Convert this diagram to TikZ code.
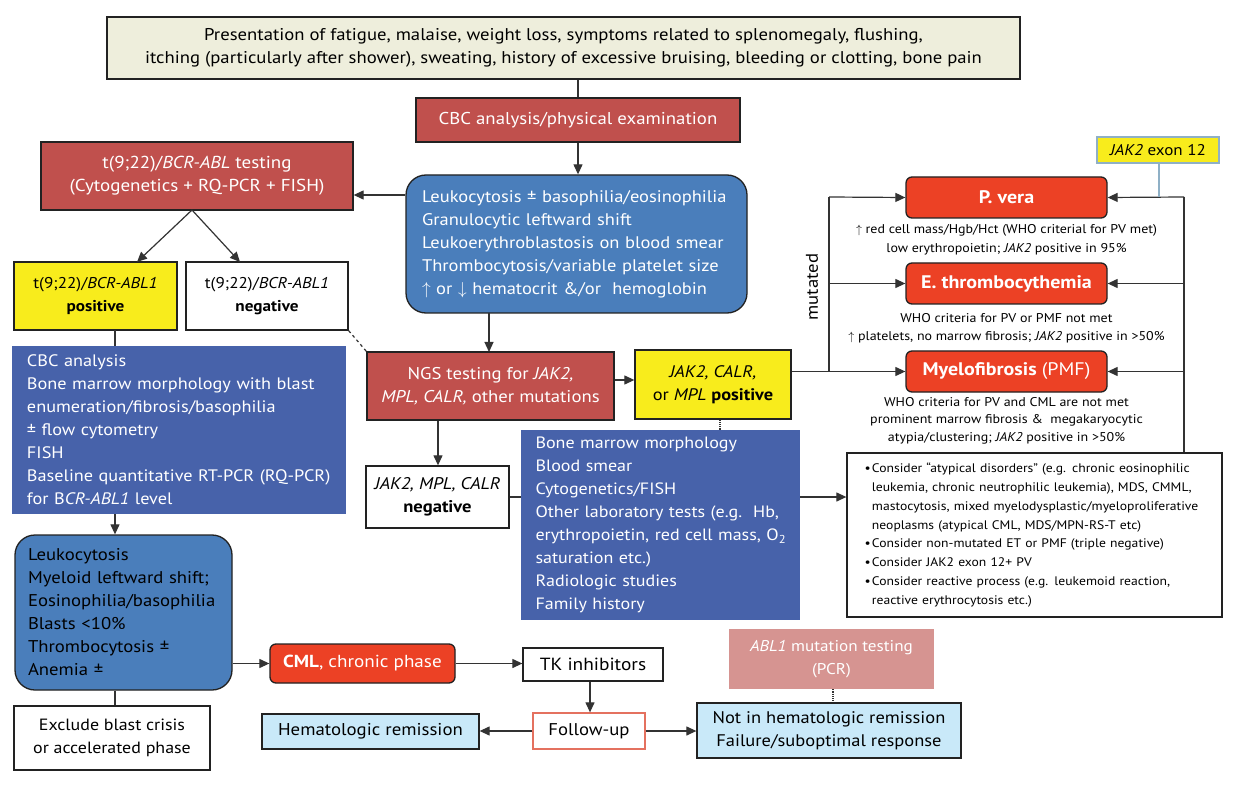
\documentclass[tikz,border=0pt]{standalone}
\usepackage{fontspec}
\setmainfont{PT Sans}[FakeStretch=1.1]
\usetikzlibrary{arrows.meta}
\definecolor{brick}{HTML}{C0504D}
\definecolor{vred}{HTML}{EC4125}
\definecolor{blueA}{HTML}{4A7EBB}
\definecolor{blueB}{HTML}{4762AA}
\definecolor{yel}{HTML}{F8EC1C}
\definecolor{lblu}{HTML}{C9E9F9}
\definecolor{beige}{HTML}{EEEEDC}
\definecolor{pink}{HTML}{D69491}
\definecolor{exb}{HTML}{8FB0C6}
\definecolor{fub}{HTML}{E4715F}
\definecolor{bord}{HTML}{222222}
\newcommand{\fs}[1]{\fontsize{#1}{23}\selectfont}
\begin{document}
\begin{tikzpicture}[x=1pt,y=-1pt,
  bx/.style={draw=bord, line width=1.3pt, inner sep=0pt, align=center},
  small/.style={font=\fontsize{12.7}{18.5}\selectfont, align=center, inner sep=0pt},
  ln/.style={draw=black!80, line width=1.2pt},
  arr/.style={ln, -{Triangle[length=10pt,width=9pt]}},
  rbox/.style={bx, fill=vred, rounded corners=6pt, text=white, minimum width=201pt, minimum height=41pt, font=\bfseries\fontsize{18.2}{22}\selectfont}
]
\useasboundingbox[fill=white] (0,0) rectangle (1239,791);

% top row
\node[bx, fill=beige, minimum width=913pt, minimum height=62pt, font=\fs{17}] (top) at (563.5,48)
  {Presentation of fatigue, malaise, weight loss, symptoms related to splenomegaly, flushing,\\
   itching (particularly after shower), sweating, history of excessive bruising, bleeding or clotting, bone pain};
\node[bx, fill=brick, text=white, minimum width=324pt, minimum height=44pt, font=\fs{17.1}] (cbc) at (578,120)
  {CBC analysis/physical examination};
\node[bx, fill=blueA, text=white, rounded corners=20pt, minimum width=341pt, minimum height=138pt, text width=309pt, align=left, font=\fs{16.8}] (blue1) at (576.5,244)
  {Leukocytosis ± basophilia/eosinophilia\\
   Granulocytic leftward shift\\
   Leukoerythroblastosis on blood smear\\
   Thrombocytosis/variable platelet size\\
   $\uparrow$ or $\downarrow$ hematocrit \&/or\ \ hemoglobin};
\node[bx, fill=brick, text=white, minimum width=312pt, minimum height=68pt, font=\fs{17.3}] (bcr) at (197,176)
  {t(9;22)/\textit{BCR-ABL} testing\\(Cytogenetics + RQ-PCR + FISH)};
\node[bx, fill=yel, minimum width=163pt, minimum height=68pt, font=\fs{15.6}] (pos) at (95.5,296)
  {t(9;22)/\textit{BCR-ABL1}\\\textbf{positive}};
\node[bx, fill=white, minimum width=162pt, minimum height=68pt, font=\fs{15.6}] (neg) at (267,296)
  {t(9;22)/\textit{BCR-ABL1}\\\textbf{negative}};
\node[fill=blueB, text=white, inner sep=0pt, minimum width=334pt, minimum height=168pt, text width=304pt, align=left, font=\fs{16.6}] (lblue) at (179,430)
  {CBC analysis\\
   Bone marrow morphology with blast\\
   enumeration/fibrosis/basophilia\\
   ± flow cytometry\\
   FISH\\
   Baseline quantitative RT-PCR (RQ-PCR)\\
   for B\textit{CR-ABL1} level};
\node[bx, fill=brick, text=white, minimum width=247pt, minimum height=68pt, font=\fs{17}] (ngs) at (490.5,386)
  {NGS testing for \textit{JAK2,}\\\textit{MPL, CALR,} other mutations};
\node[bx, fill=yel, minimum width=156pt, minimum height=69pt, font=\fs{16.7}] (jpos) at (713,384.5)
  {\textit{JAK2, CALR,}\\or \textit{MPL} \textbf{positive}};
\node[fill=blueB, text=white, inner sep=0pt, minimum width=279pt, minimum height=190pt, text width=250pt, align=left, font=\fs{16.4}] (dblue) at (660.5,525)
  {Bone marrow morphology\\
   Blood smear\\
   Cytogenetics/FISH\\
   Other laboratory tests (e.g.\ \ Hb,\\
   \mbox{erythropoietin, red cell mass, O\textsubscript{2}}\\
   saturation etc.)\\
   Radiologic studies\\
   Family history};
\node[bx, fill=white, minimum width=143pt, minimum height=62pt, font=\fs{16.9}] (jneg) at (437.5,497)
  {\textit{JAK2, MPL, CALR}\\\textbf{negative}};
\node[bx, fill=white, minimum width=375pt, minimum height=164pt, text width=340pt, align=left, font=\fontsize{12.4}{18.8}\selectfont] (bul) at (1034.5,535)
  {\makebox[0.6em][l]{\textbullet}Consider “atypical disorders” (e.g. chronic eosinophilic\\
   \hspace*{0.6em}leukemia, chronic neutrophilic leukemia), MDS, CMML,\\
   \hspace*{0.6em}mastocytosis, mixed myelodysplastic/myeloproliferative\\
   \hspace*{0.6em}neoplasms (atypical CML, MDS/MPN-RS-T etc)\\
   \makebox[0.6em][l]{\textbullet}Consider non-mutated ET or PMF (triple negative)\\
   \makebox[0.6em][l]{\textbullet}Consider JAK2 exon 12+ PV\\
   \makebox[0.6em][l]{\textbullet}Consider reactive process (e.g. leukemoid reaction,\\
   \hspace*{0.6em}reactive erythrocytosis etc.)};

% MPN column
\node[rbox] (pv) at (1006.5,197.5) {P. vera};
\node[rbox] (et) at (1006.5,283.5) {E. thrombocythemia};
\node[rbox] (pmf) at (1006.5,371.5) {Myelofibrosis \mdseries(PMF)};
\node[small] (pvt) at (1006.5,240) {$\uparrow$ red cell mass/Hgb/Hct (WHO criterial for PV met)\\low erythropoietin; \textit{JAK2} positive in 95\%};
\node[small] (ett) at (1006.5,328) {WHO criteria for PV or PMF not met\\$\uparrow$ platelets, no marrow fibrosis; \textit{JAK2} positive in >50\%};
\node[small, font=\fontsize{12.7}{17.5}\selectfont] (pmft) at (1006.5,420.5) {WHO criteria for PV and CML are not met\\prominent marrow fibrosis \&\ \ megakaryocytic\\atypia/clustering; \textit{JAK2} positive in >50\%};
\node[font=\fs{17}, rotate=90, inner sep=0pt] (mut) at (812,287) {mutated};
\node[draw=exb, line width=1.3pt, fill=yel, inner sep=0pt, minimum width=122pt, minimum height=26pt, font=\fs{15.5}] (exon) at (1158,150) {\textit{JAK2} exon 12};

% bottom
\node[bx, fill=blueA, rounded corners=20pt, minimum width=217pt, minimum height=155pt, text width=191pt, align=left, font=\fs{17}] (lrb) at (123.5,612.5)
  {Leukocytosis\\
   Myeloid leftward shift;\\
   Eosinophilia/basophilia\\
   Blasts <10\%\\
   Thrombocytosis ±\\
   Anemia ±};
\node[bx, fill=white, minimum width=196pt, minimum height=64pt, font=\fs{16.3}] (excl) at (112,738)
  {Exclude blast crisis\\or accelerated phase};
\node[bx, fill=vred, text=white, rounded corners=6pt, minimum width=185pt, minimum height=39pt, font=\fs{17.4}] (cml) at (362.5,663.5)
  {\textbf{CML}, chronic phase};
\node[bx, fill=white, minimum width=140pt, minimum height=33pt, font=\fs{17.6}] (tk) at (593,664.5) {TK inhibitors};
\node[draw=fub, line width=1.3pt, fill=white, inner sep=0pt, minimum width=112pt, minimum height=36pt, font=\fs{17}] (fu) at (589,731) {Follow-up};
\node[bx, fill=lblu, minimum width=217pt, minimum height=35pt, font=\fs{17.1}] (hr) at (370.5,731.5) {Hematologic remission};
\node[bx, fill=lblu, minimum width=264pt, minimum height=55pt, font=\fs{16.8}] (nr) at (829,730.5)
  {Not in hematologic remission\\Failure/suboptimal response};
\node[fill=pink, text=white, inner sep=0pt, minimum width=205pt, minimum height=60pt, align=center, font=\fs{15.6}] (abl) at (831.5,659)
  {\textit{ABL1} mutation testing\\(PCR)};

% coordinates
\coordinate (mt) at (829,197);
\coordinate (mm) at (829,283.5);
\coordinate (mb) at (829,371.5);
\coordinate (rt) at (1184,197);
\coordinate (rm) at (1184,283.5);
\coordinate (rb) at (1184,371.5);

% connectors
\draw[ln] (top.south -| cbc.north) -- (cbc.north);
\draw[arr] (cbc.south) -- (cbc.south |- blue1.north);
\draw[arr] (blue1.west |- 0,195) -- (bcr.east |- 0,195);
\draw[arr] (192,210) -- (137,262);
\draw[arr] (192,210) -- (240,262);
\draw[ln] (115,330) -- (115,346);
\draw[ln, dashed] (neg.south east) -- (ngs.north west);
\draw[arr] (489,313) -- (489,352);
\draw[arr] (ngs.east |- 0,380) -- (jpos.west |- 0,380);
\draw[ln, densely dotted] (jpos.south -| 720,0) -- (dblue.north -| 720,0);
\draw[arr] (ngs.south -| 438,0) -- (jneg.north -| 438,0);
\draw[ln] (jneg.east) -- (dblue.west |- jneg.east);
\draw[arr] (dblue.east |- jneg.east) -- (bul.west |- jneg.east);
\draw[ln] (jpos.east |- mb) -- (mb);
\draw[ln] (mt) -- (mb);
\draw[arr] (mt) -- (pv.west);
\draw[arr] (mm) -- (et.west);
\draw[arr] (mb) -- (pmf.west);
\draw[ln] (rt) -- (rt |- bul.north);
\draw[arr] (rt) -- (pv.east);
\draw[arr] (rm) -- (et.east);
\draw[arr] (rb) -- (pmf.east);
\draw[draw=exb, line width=1.3pt] (exon.south -| 1159,0) -- (1159,197);
\draw[arr] (lblue.south -| 115,0) -- (lrb.north -| 115,0);
\draw[ln] (lrb.south -| 115,0) -- (excl.north -| 115,0);
\draw[arr] (lrb.east |- cml.west) -- (cml.west);
\draw[arr] (cml.east) -- (tk.west |- cml.east);
\draw[arr] (tk.south -| 590,0) -- (fu.north -| 590,0);
\draw[arr] (fu.west) -- (hr.east |- fu.west);
\draw[arr] (fu.east) -- (nr.west |- fu.east);
\draw[ln, densely dotted] (abl.south -| 833,0) -- (nr.north -| 833,0);
\end{tikzpicture}
\end{document}
